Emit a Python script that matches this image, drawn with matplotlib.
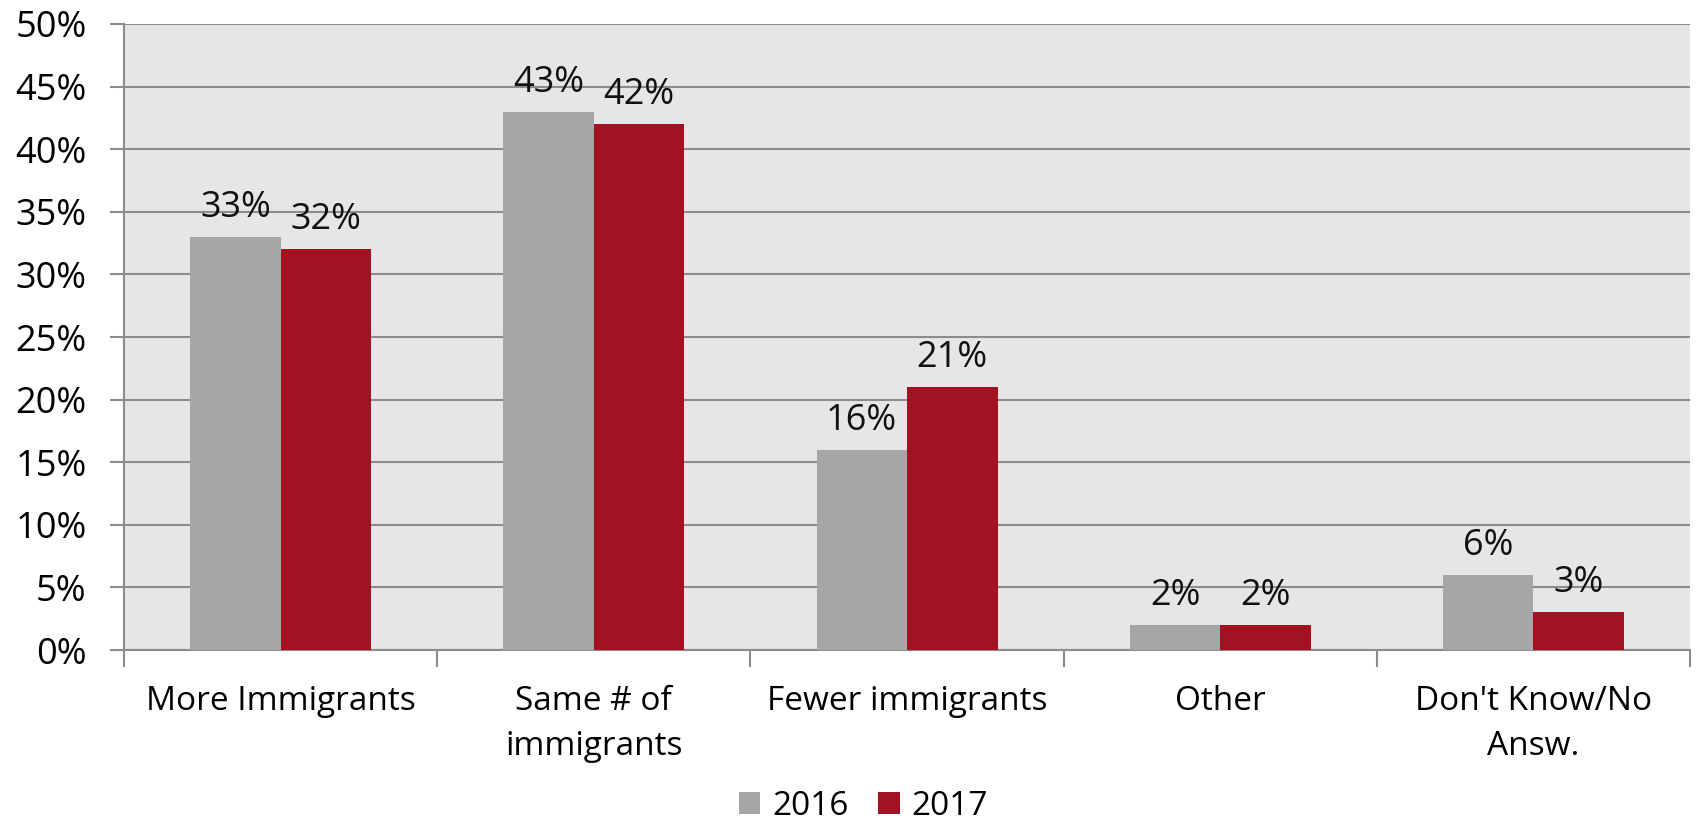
import matplotlib.pyplot as plt
from matplotlib.ticker import MultipleLocator, FuncFormatter
import numpy as np

categories = ['More Immigrants', 'Same # of\nimmigrants', 'Fewer immigrants',
              'Other', "Don't Know/No\nAnsw."]
values_2016 = [33, 43, 16, 2, 6]
values_2017 = [32, 42, 21, 2, 3]
series_labels = ['2016', '2017']

GREY = '#a6a6a6'
RED = '#a31222'
FS = 26
FS_CAT = 24

plt.rcParams['font.family'] = ['Open Sans', 'DejaVu Sans']

fig = plt.figure(figsize=(16.96, 8.27), dpi=100)
ax = fig.add_axes([0.0731, 0.214, 0.9234, 0.757])
ax.set_facecolor('#e6e6e6')

x = np.arange(len(categories))
width = 0.289
bars1 = ax.bar(x - width / 2, values_2016, width, color=GREY, label=series_labels[0], zorder=3)
bars2 = ax.bar(x + width / 2, values_2017, width, color=RED, label=series_labels[1], zorder=3)

for bars in (bars1, bars2):
    for b in bars:
        ax.annotate(f'{b.get_height():.0f}%', (b.get_x() + b.get_width() / 2, b.get_height()),
                    xytext=(0, 8), textcoords='offset points', ha='center', va='bottom',
                    fontsize=FS, color='#111111')

ax.set_xlim(-0.5, len(categories) - 0.5)
ax.set_ylim(0, 50)
ax.yaxis.set_major_locator(MultipleLocator(5))
ax.yaxis.set_major_formatter(FuncFormatter(lambda v, _: f'{v:.0f}%'))
ax.grid(axis='y', color='#8c8c8c', linewidth=1.5, zorder=1)

ax.set_xticks(x)
ax.set_xticklabels(categories, fontsize=FS_CAT, linespacing=1.5)
ax.tick_params(axis='x', length=0, pad=25)
ax.set_xticks(np.arange(-0.5, len(categories)), minor=True)
ax.tick_params(axis='x', which='minor', length=12, width=1.5, color='#8c8c8c')
ax.tick_params(axis='y', labelsize=FS, length=10, width=1.5, color='#8c8c8c', pad=17)

for side in ('top', 'right'):
    ax.spines[side].set_visible(False)
for side in ('left', 'bottom'):
    ax.spines[side].set_color('#8c8c8c')
    ax.spines[side].set_linewidth(1.5)

fig.legend(loc='center', bbox_to_anchor=(0.509, 0.025), ncol=2, frameon=False,
           fontsize=FS_CAT, handlelength=0.65, handleheight=0.65, handletextpad=0.35,
           columnspacing=0.9, borderpad=0)

fig.savefig('out.png', dpi=100)
